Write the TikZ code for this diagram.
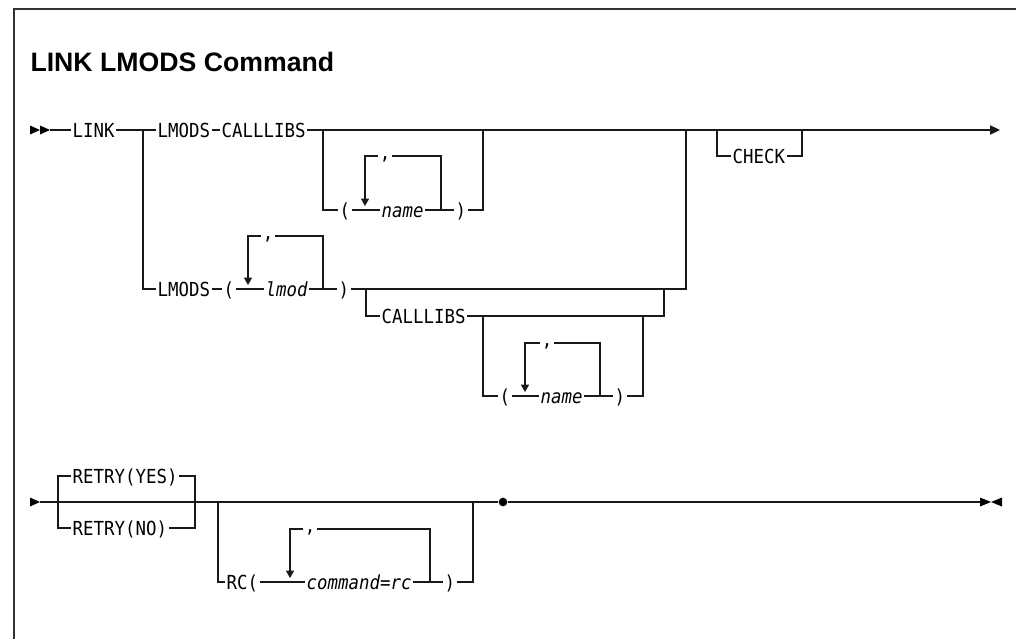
\documentclass[tikz,border=0pt]{standalone}
\usepackage{fontspec}
\usetikzlibrary{arrows.meta}
\newfontfamily\railfont[FakeStretch=0.9]{DejaVu Sans Mono}
\newfontfamily\titlefont{Liberation Sans}
\tikzset{
  kw/.style={font=\railfont\fontsize{14.5}{17}\selectfont, inner xsep=1.3pt, inner ysep=0pt,
    outer sep=0pt, anchor=west, text height=13.6pt, text depth=3pt},
  var/.style={kw, font=\railfont\itshape\fontsize{14.5}{17}\selectfont},
  commanode/.style={kw, anchor=center},
  downtip/.style={-{Triangle[width=6pt,length=5.5pt]}},
  endtip/.style={-{Triangle[width=7pt,length=7.5pt]}},
  frame/.style={line width=1pt, draw=black!80},
}
\begin{document}
\begin{tikzpicture}[x=0.75pt,y=-0.75pt,line width=0.8pt,draw=black!90]
\useasboundingbox (0,0) rectangle (1016,639);
\draw[frame] (14,639) -- (14,9) -- (1016,9);
\node[anchor=base west, inner sep=0pt, font=\titlefont\bfseries\fontsize{20}{24}\selectfont] (title) at (30,71) {LINK LMODS Command};

% ---------- line 1 ----------
\fill (30,125.5) -- (40,130) -- (30,134.5) -- cycle;
\fill (40,125.5) -- (50,130) -- (40,134.5) -- cycle;
\coordinate (s1) at (50,130);
\node[kw] (link) at (71,130) {LINK};
\coordinate (j1) at (143,130);
\coordinate (j1b) at (143,289);
\node[kw] (lm1) at (156,130) {LMODS};
\node[kw] (cl1) at (220,130) {CALLLIBS};
\coordinate (e1) at (1000,130);
\draw (s1) -- (link.west);
\draw (link.east) -- (lm1.west);
\draw (lm1.east) -- (cl1.west);
\draw[endtip] (cl1.east) -- (e1);

% optional ( name ) after LMODS-CALLLIBS
\coordinate (b1a) at (323,130); \coordinate (b1b) at (323,210);
\node[kw] (lp1) at (338,210) {(};
\node[var] (nm1) at (380,210) {name};
\node[kw] (rp1) at (454,210) {)};
\coordinate (b1c) at (483,210); \coordinate (b1d) at (483,130);
\draw (b1a) -- (b1b) -- (lp1.west);
\draw (lp1.east) -- (nm1.west);
\draw (nm1.east) -- (rp1.west);
\draw (rp1.east) -- (b1c) -- (b1d);
\coordinate (r1a) at (441,210); \coordinate (r1b) at (441,156);
\coordinate (l1t) at (365,156); \coordinate (l1b) at (365,206);
\node[commanode] (c1) at (385,152) {,};
\draw (r1a) -- (r1b) -- (c1.east |- r1b);
\draw[downtip] (c1.west |- l1t) -- (l1t) -- (l1b);

% CHECK
\coordinate (ck1) at (717,130); \coordinate (ck2) at (717,156);
\node[kw] (chk) at (731,156) {CHECK};
\coordinate (ck3) at (802,156); \coordinate (ck4) at (802,130);
\draw (ck1) -- (ck2) -- (chk.west);
\draw (chk.east) -- (ck3) -- (ck4);

% ---------- LMODS ( lmod ) ----------
\node[kw] (lm2) at (156,289) {LMODS};
\node[kw] (lp2) at (222,289) {(};
\node[var] (lmod) at (264,289) {lmod};
\node[kw] (rp2) at (337,289) {)};
\coordinate (m2) at (686,289); \coordinate (m1) at (686,130);
\draw (j1) -- (j1b) -- (lm2.west);
\draw (lm2.east) -- (lp2.west);
\draw (lp2.east) -- (lmod.west);
\draw (lmod.east) -- (rp2.west);
\draw (rp2.east) -- (m2) -- (m1);
\coordinate (r2a) at (323,289); \coordinate (r2b) at (323,236);
\coordinate (l2t) at (248,236); \coordinate (l2b) at (248,285);
\node[commanode] (c2) at (268,232) {,};
\draw (r2a) -- (r2b) -- (c2.east |- r2b);
\draw[downtip] (c2.west |- l2t) -- (l2t) -- (l2b);

% CALLLIBS branch
\coordinate (k1) at (366,289); \coordinate (k2) at (366,316);
\node[kw] (cl2) at (380,316) {CALLLIBS};
\coordinate (k3) at (664,316); \coordinate (k4) at (664,289);
\draw (k1) -- (k2) -- (cl2.west);
\draw (cl2.east) -- (k3) -- (k4);
\coordinate (n1) at (483,316); \coordinate (n2) at (483,396);
\node[kw] (lp3) at (498,396) {(};
\node[var] (nm3) at (539,396) {name};
\node[kw] (rp3) at (613,396) {)};
\coordinate (n3) at (643,396); \coordinate (n4) at (643,316);
\draw (n1) -- (n2) -- (lp3.west);
\draw (lp3.east) -- (nm3.west);
\draw (nm3.east) -- (rp3.west);
\draw (rp3.east) -- (n3) -- (n4);
\coordinate (r3a) at (600,396); \coordinate (r3b) at (600,343);
\coordinate (l3t) at (525,343); \coordinate (l3b) at (525,392);
\node[commanode] (c3) at (547,339) {,};
\draw (r3a) -- (r3b) -- (c3.east |- r3b);
\draw[downtip] (c3.west |- l3t) -- (l3t) -- (l3b);

% ---------- line 2 ----------
\fill (30,497.5) -- (40,502) -- (30,506.5) -- cycle;
\coordinate (s2) at (40,502);
\node[circle, fill, inner sep=0pt, minimum size=6.5pt] (dot) at (503,502) {};
\coordinate (e2) at (980,502);
\draw (s2) -- (dot);
\draw (dot) -- (e2);
\fill (980,497.5) -- (991,502) -- (980,506.5) -- cycle;
\fill (1002,497.5) -- (991,502) -- (1002,506.5) -- cycle;

% RETRY choice
\node[kw] (ry) at (71,476) {RETRY(YES)};
\node[kw] (rn) at (71,528) {RETRY(NO)};
\coordinate (t1) at (58,476); \coordinate (t2) at (58,528);
\coordinate (t3) at (195,476); \coordinate (t4) at (195,528);
\draw (ry.west) -- (t1) -- (t2) -- (rn.west);
\draw (ry.east) -- (t3) -- (t4) -- (rn.east);

% RC( command=rc )
\coordinate (q1) at (218,502); \coordinate (q2) at (218,582);
\node[kw] (rc) at (225,582) {RC(};
\node[var] (cmd) at (305,582) {command=rc};
\node[kw] (rp4) at (443,582) {)};
\coordinate (q3) at (473,582); \coordinate (q4) at (473,502);
\draw (q1) -- (q2) -- (rc.west);
\draw (rc.east) -- (cmd.west);
\draw (cmd.east) -- (rp4.west);
\draw (rp4.east) -- (q3) -- (q4);
\coordinate (r4a) at (430,582); \coordinate (r4b) at (430,529);
\coordinate (l4t) at (290,529); \coordinate (l4b) at (290,578);
\node[commanode] (c4) at (310,525) {,};
\draw (r4a) -- (r4b) -- (c4.east |- r4b);
\draw[downtip] (c4.west |- l4t) -- (l4t) -- (l4b);
\end{tikzpicture}
\end{document}
